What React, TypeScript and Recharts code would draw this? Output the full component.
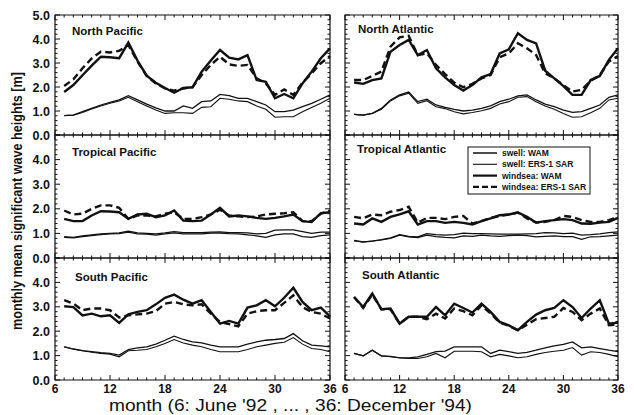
import { LineChart, Line, XAxis, YAxis, ReferenceArea } from "recharts";

// months 7 (July '92) .. 36 (December '94)
const months = [7, 8, 9, 10, 11, 12, 13, 14, 15, 16, 17, 18, 19, 20, 21, 22, 23, 24, 25, 26, 27, 28, 29, 30, 31, 32, 33, 34, 35, 36];

const xTicks = [6, 7, 8, 9, 10, 11, 12, 13, 14, 15, 16, 17, 18, 19, 20, 21, 22, 23, 24, 25, 26, 27, 28, 29, 30, 31, 32, 33, 34, 35, 36];
const yTicks = [0, 0.2, 0.4, 0.6, 0.8, 1, 1.2, 1.4, 1.6, 1.8, 2, 2.2, 2.4, 2.6, 2.8, 3, 3.2, 3.4, 3.6, 3.8, 4, 4.2, 4.4, 4.6, 4.8, 5];

// North Pacific
const npWindWam = [1.79, 2.08, 2.49, 2.89, 3.26, 3.24, 3.2, 3.85, 3.1, 2.47, 2.18, 1.96, 1.76, 1.96, 1.99, 2.64, 3.1, 3.54, 3.22, 3.15, 3.33, 2.29, 2.22, 1.53, 1.71, 1.53, 2.15, 2.64, 3.2, 3.61];
const npWindSar = [2.04, 2.32, 2.78, 3.19, 3.47, 3.44, 3.51, 3.75, 3.06, 2.46, 2.15, 1.94, 1.85, 1.94, 1.99, 2.5, 2.92, 3.26, 2.94, 2.88, 2.92, 2.36, 2.15, 1.67, 1.9, 1.67, 2.18, 2.57, 2.99, 3.29];
const npSwellWam = [0.81, 0.83, 0.97, 1.11, 1.25, 1.36, 1.46, 1.64, 1.46, 1.29, 1.13, 1.0, 1.0, 1.21, 1.11, 1.39, 1.42, 1.69, 1.64, 1.53, 1.53, 1.39, 1.25, 0.97, 0.97, 1.04, 1.18, 1.32, 1.49, 1.67];
const npSwellSar = [0.81, 0.83, 0.94, 1.08, 1.21, 1.32, 1.42, 1.57, 1.39, 1.21, 1.04, 0.9, 0.93, 0.93, 0.9, 1.15, 1.18, 1.53, 1.49, 1.42, 1.39, 1.21, 1.07, 0.74, 0.76, 0.76, 0.97, 1.15, 1.32, 1.53];

// North Atlantic
const naWindWam = [2.19, 2.13, 2.29, 2.36, 3.47, 3.75, 3.96, 3.33, 3.54, 2.78, 2.4, 2.08, 1.85, 2.08, 2.4, 2.54, 3.4, 3.57, 4.24, 3.96, 3.82, 2.68, 2.36, 2.04, 1.67, 1.67, 2.29, 2.46, 3.13, 3.61];
const naWindSar = [2.29, 2.29, 2.46, 2.64, 3.68, 4.07, 4.13, 3.33, 3.4, 2.92, 2.54, 2.18, 1.99, 2.13, 2.36, 2.5, 3.24, 3.4, 3.82, 3.61, 3.33, 2.57, 2.36, 2.08, 1.81, 1.88, 2.26, 2.5, 3.06, 3.29];
const naSwellWam = [0.86, 0.83, 0.9, 1.11, 1.46, 1.67, 1.79, 1.39, 1.49, 1.25, 1.15, 1.07, 1.0, 1.04, 1.11, 1.21, 1.39, 1.49, 1.63, 1.67, 1.46, 1.29, 1.18, 1.04, 0.94, 0.97, 1.11, 1.25, 1.57, 1.67];
const naSwellSar = [0.86, 0.83, 0.9, 1.07, 1.42, 1.63, 1.74, 1.32, 1.43, 1.18, 1.1, 0.97, 0.88, 0.94, 1.01, 1.11, 1.29, 1.39, 1.57, 1.6, 1.39, 1.21, 1.07, 0.9, 0.74, 0.76, 0.93, 1.11, 1.46, 1.53];

// Tropical Pacific
const tpWindWam = [1.59, 1.5, 1.5, 1.73, 1.9, 1.89, 1.86, 1.59, 1.77, 1.8, 1.66, 1.73, 1.93, 1.52, 1.5, 1.52, 1.77, 2.04, 1.69, 1.73, 1.69, 1.63, 1.59, 1.63, 1.69, 1.77, 1.5, 1.46, 1.82, 1.86];
const tpWindSar = [1.93, 1.77, 1.8, 2.0, 2.14, 2.14, 2.04, 1.59, 1.73, 1.73, 1.69, 1.8, 1.86, 1.59, 1.59, 1.66, 1.77, 1.96, 1.73, 1.69, 1.66, 1.69, 1.77, 1.8, 1.82, 1.86, 1.5, 1.5, 1.8, 1.93];
const tpSwellWam = [0.87, 0.84, 0.9, 0.94, 0.98, 1.0, 1.02, 1.09, 1.02, 1.0, 0.98, 1.02, 1.07, 1.03, 1.03, 1.03, 1.05, 1.06, 1.03, 1.03, 1.02, 0.98, 1.0, 1.13, 1.14, 1.14, 1.07, 1.0, 1.05, 1.05];
const tpSwellSar = [0.84, 0.82, 0.87, 0.91, 0.95, 0.98, 0.99, 1.05, 0.98, 0.97, 0.93, 0.98, 1.02, 0.98, 0.98, 0.98, 1.01, 1.01, 0.99, 0.98, 0.94, 0.9, 0.84, 0.94, 0.98, 0.98, 0.87, 0.84, 0.91, 0.94];

// Tropical Atlantic
const taWindWam = [1.4, 1.36, 1.61, 1.47, 1.67, 1.77, 1.9, 1.36, 1.5, 1.5, 1.43, 1.47, 1.43, 1.36, 1.5, 1.61, 1.74, 1.77, 1.85, 1.67, 1.44, 1.5, 1.54, 1.58, 1.54, 1.4, 1.39, 1.44, 1.47, 1.63];
const taWindSar = [1.67, 1.61, 1.77, 1.74, 1.88, 1.95, 2.08, 1.44, 1.63, 1.63, 1.58, 1.67, 1.71, 1.4, 1.5, 1.63, 1.71, 1.77, 1.85, 1.61, 1.44, 1.47, 1.54, 1.71, 1.67, 1.54, 1.47, 1.47, 1.54, 1.67];
const taSwellWam = [0.72, 0.65, 0.69, 0.75, 0.82, 0.95, 0.88, 0.86, 0.99, 0.95, 0.93, 0.95, 1.01, 0.99, 0.99, 0.98, 0.97, 0.97, 0.97, 0.98, 0.99, 1.03, 1.02, 0.99, 1.01, 0.93, 0.95, 0.98, 1.03, 1.06];
const taSwellSar = [0.69, 0.65, 0.69, 0.73, 0.79, 0.93, 0.86, 0.83, 0.93, 0.87, 0.84, 0.82, 0.9, 0.88, 0.93, 0.9, 0.88, 0.91, 0.93, 0.91, 0.86, 0.88, 0.9, 0.87, 0.87, 0.76, 0.86, 0.87, 0.9, 0.93];

// South Pacific
const spWindWam = [3.02, 2.99, 2.65, 2.72, 2.61, 2.65, 2.34, 2.69, 2.79, 2.86, 3.1, 3.37, 3.5, 3.29, 3.13, 3.27, 2.79, 2.31, 2.42, 2.31, 2.97, 3.06, 3.27, 3.02, 3.37, 3.78, 3.2, 2.86, 2.97, 2.61];
const spWindSar = [3.27, 3.13, 2.86, 2.93, 2.93, 2.86, 2.56, 2.65, 2.69, 2.72, 2.82, 3.13, 3.2, 3.1, 3.06, 3.1, 2.72, 2.38, 2.29, 2.2, 2.72, 2.82, 2.86, 2.86, 3.16, 3.47, 2.99, 2.79, 2.72, 2.52];
const spSwellWam = [1.36, 1.27, 1.2, 1.16, 1.12, 1.09, 1.02, 1.25, 1.32, 1.36, 1.47, 1.63, 1.8, 1.66, 1.56, 1.52, 1.43, 1.36, 1.36, 1.36, 1.47, 1.56, 1.63, 1.66, 1.7, 1.9, 1.61, 1.43, 1.4, 1.36];
const spSwellSar = [1.36, 1.27, 1.2, 1.14, 1.09, 1.06, 0.95, 1.2, 1.22, 1.25, 1.36, 1.5, 1.66, 1.52, 1.43, 1.36, 1.25, 1.16, 1.16, 1.16, 1.25, 1.36, 1.43, 1.5, 1.55, 1.74, 1.47, 1.29, 1.25, 1.16];

// South Atlantic
const saWindWam = [3.4, 2.99, 3.54, 2.9, 2.93, 2.31, 2.59, 2.59, 2.59, 2.99, 2.65, 3.13, 2.95, 2.76, 3.13, 2.79, 2.38, 2.24, 2.04, 2.38, 2.68, 2.86, 2.95, 3.27, 2.99, 2.54, 2.93, 3.27, 2.31, 2.35];
const saWindSar = [3.4, 2.95, 3.5, 2.9, 2.9, 2.31, 2.59, 2.59, 2.49, 2.72, 2.52, 2.93, 2.82, 2.65, 3.06, 2.72, 2.35, 2.22, 2.04, 2.27, 2.49, 2.54, 2.59, 2.95, 2.79, 2.45, 2.72, 2.93, 2.24, 2.27];
const saSwellWam = [1.09, 0.99, 1.22, 0.99, 0.97, 0.91, 0.91, 0.95, 1.05, 1.16, 1.18, 1.36, 1.36, 1.36, 1.36, 1.09, 1.22, 1.16, 1.09, 1.13, 1.22, 1.32, 1.4, 1.46, 1.56, 1.32, 1.36, 1.29, 1.22, 1.16];
const saSwellSar = [1.09, 0.99, 1.22, 0.99, 0.95, 0.91, 0.88, 0.88, 0.95, 1.09, 0.91, 1.18, 1.18, 1.18, 1.16, 0.95, 1.05, 0.99, 0.91, 0.95, 1.05, 1.13, 1.18, 1.22, 1.33, 1.02, 1.16, 1.13, 1.05, 0.95];

const W = 634;
const H = 415;
const INK = "#111";
const FONT = "'Liberation Sans', Arial, Helvetica, sans-serif";
const AX_H = 20; // space reserved for the x axis below the plot
const AX_W = 30; // space reserved for the y axis left of the plot

const COLS = [
  { x0: 55, x1: 330 },
  { x0: 345, x1: 618 },
];
const ROWS = [
  { y0: 15, y1: 135 },
  { y0: 135, y1: 258 },
  { y0: 258, y1: 380 },
];

const panels = [
  { title: "North Pacific", col: 0, row: 0, tx: 72, ty: 35, ww: npWindWam, ws: npWindSar, sw: npSwellWam, ss: npSwellSar },
  { title: "North Atlantic", col: 1, row: 0, tx: 358, ty: 33, ww: naWindWam, ws: naWindSar, sw: naSwellWam, ss: naSwellSar },
  { title: "Tropical Pacific", col: 0, row: 1, tx: 72, ty: 156, ww: tpWindWam, ws: tpWindSar, sw: tpSwellWam, ss: tpSwellSar },
  { title: "Tropical Atlantic", col: 1, row: 1, tx: 357, ty: 153, ww: taWindWam, ws: taWindSar, sw: taSwellWam, ss: taSwellSar },
  { title: "South Pacific", col: 0, row: 2, tx: 75, ty: 281, ww: spWindWam, ws: spWindSar, sw: spSwellWam, ss: spSwellSar },
  { title: "South Atlantic", col: 1, row: 2, tx: 362, ty: 279, ww: saWindWam, ws: saWindSar, sw: saSwellWam, ss: saSwellSar },
];

function Panel({ p }: { p: any }) {
  const { x0, x1 } = COLS[p.col];
  const { y0, y1 } = ROWS[p.row];
  const showX = p.row === 2;
  const showY = p.col === 0;
  const yLabelMax = p.row === 0 ? 5 : 4;
  const data = months.map((m, i) => ({ m, ww: p.ww[i], ws: p.ws[i], sw: p.sw[i], ss: p.ss[i] }));

  const xTick = (props: any) => {
    const v = props.payload.value;
    const x = props.x;
    const major = v % 6 === 0;
    const len = major ? 5 : 2.5;
    return (
      <g>
        <line x1={x} x2={x} y1={y1} y2={y1 - len} stroke={INK} strokeWidth={1} />
        <line x1={x} x2={x} y1={y0} y2={y0 + len} stroke={INK} strokeWidth={1} />
        {showX && major && (
          <text x={x} y={y1 + 12.5} textAnchor="middle" fontSize={12} fontWeight="bold" fill={INK} fontFamily={FONT}>
            {v}
          </text>
        )}
      </g>
    );
  };

  const yTick = (props: any) => {
    const v = props.payload.value;
    const y = props.y;
    const major = Math.abs(v - Math.round(v)) < 1e-6;
    const len = major ? 5 : 2.5;
    return (
      <g>
        <line x1={x0} x2={x0 + len} y1={y} y2={y} stroke={INK} strokeWidth={1} />
        <line x1={x1} x2={x1 - len} y1={y} y2={y} stroke={INK} strokeWidth={1} />
        {showY && major && v <= yLabelMax && (
          <text x={x0 - 5} y={y + 4.5} textAnchor="end" fontSize={12.5} fontWeight="bold" fill={INK} fontFamily={FONT}>
            {v.toFixed(1)}
          </text>
        )}
      </g>
    );
  };

  return (
    <div style={{ position: "absolute", left: 0, top: 0 }}>
      <LineChart
        width={W}
        height={H}
        data={data}
        margin={{ top: y0, left: x0 - AX_W, right: W - x1, bottom: H - y1 - AX_H }}
      >
        <XAxis
          dataKey="m"
          type="number"
          domain={[6, 36]}
          ticks={xTicks}
          interval={0}
          height={AX_H}
          axisLine={false}
          tickLine={false}
          tick={xTick}
        />
        <YAxis
          type="number"
          domain={[0, 5]}
          ticks={yTicks}
          interval={0}
          width={AX_W}
          axisLine={false}
          tickLine={false}
          tick={yTick}
        />
        <ReferenceArea x1={6} x2={36} y1={0} y2={5} fill="none" fillOpacity={0} stroke={INK} strokeWidth={1.2} />
        <Line type="linear" dataKey="sw" stroke={INK} strokeWidth={1.3} dot={false} isAnimationActive={false} />
        <Line type="linear" dataKey="ss" stroke={INK} strokeWidth={1.1} dot={false} isAnimationActive={false} />
        <Line type="linear" dataKey="ww" stroke={INK} strokeWidth={2.4} dot={false} isAnimationActive={false} />
        <Line type="linear" dataKey="ws" stroke={INK} strokeWidth={2.4} strokeDasharray="7 4" dot={false} isAnimationActive={false} />
      </LineChart>
    </div>
  );
}

const legendItems = [
  { label: "swell: WAM", width: 1.5, dash: undefined },
  { label: "swell: ERS-1 SAR", width: 1.1, dash: undefined },
  { label: "windsea: WAM", width: 2.2, dash: undefined },
  { label: "windsea: ERS-1 SAR", width: 2.2, dash: "6 3" },
];

export default function App() {
  return (
    <div style={{ position: "absolute", left: 0, top: 0, width: W, height: H, background: "#fff", overflow: "hidden" }}>
      {panels.map((p) => (
        <Panel key={p.title} p={p} />
      ))}
      <svg width={W} height={H} style={{ position: "absolute", left: 0, top: 0, pointerEvents: "none" }} fontFamily={FONT}>
        {panels.map((p) => (
          <text key={p.title} x={p.tx} y={p.ty} fontSize={11.5} fontWeight="bold" fill={INK}>
            {p.title}
          </text>
        ))}
        <text
          x={22}
          y={201}
          transform="rotate(-90 22 201)"
          textAnchor="middle"
          fontSize={14}
          fontWeight="bold"
          fill={INK}
          textLength={258}
          lengthAdjust="spacingAndGlyphs"
        >
          monthly mean significant wave heights [m]
        </text>
        <text x={109} y={410.5} fontSize={16.5} fill={INK} textLength={363} lengthAdjust="spacingAndGlyphs">
          month (6: June '92 , ... , 36: December '94)
        </text>
        <rect x={468} y={147} width={122} height={47} fill="#fff" stroke={INK} strokeWidth={1} />
        {legendItems.map((it, i) => {
          const y = 153 + i * 11.3;
          return (
            <g key={it.label}>
              <line x1={473} x2={497} y1={y} y2={y} stroke={INK} strokeWidth={it.width} strokeDasharray={it.dash} />
              <text x={502} y={y + 3} fontSize={8.5} fontWeight="bold" fill={INK}>
                {it.label}
              </text>
            </g>
          );
        })}
      </svg>
    </div>
  );
}
